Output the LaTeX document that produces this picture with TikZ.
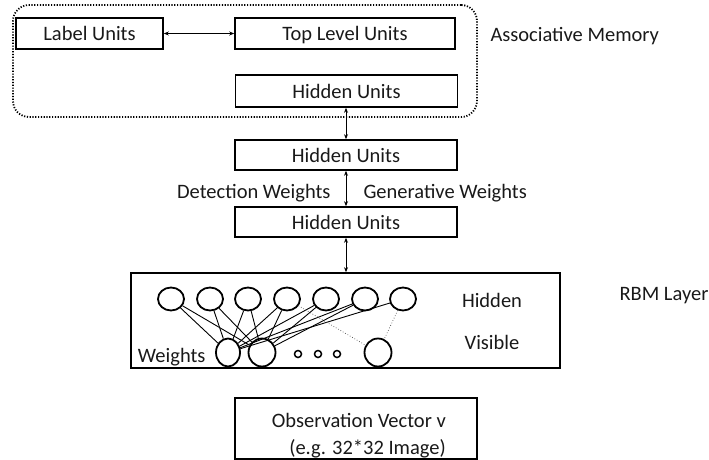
\documentclass[tikz,border=0pt]{standalone}
\usepackage{fontspec}
\setmainfont{Carlito}
\usetikzlibrary{arrows.meta,shapes.geometric}
\begin{document}
\begin{tikzpicture}[x=1pt,y=-1pt,
  every node/.style={font=\fontsize{20.5}{24}\selectfont, text=black!90},
  unitbox/.style={draw, line width=1.6pt, inner sep=0pt},
  txtfix/.style={text height=16pt, text depth=2pt},
  hcirc/.style={draw, ellipse, line width=1.8pt, minimum width=26pt, minimum height=23pt, inner sep=0pt},
  vcirc/.style={draw, ellipse, line width=1.8pt, minimum width=27pt, minimum height=28pt, inner sep=0pt},
  dotc/.style={draw, circle, line width=1.5pt, minimum size=7pt, inner sep=0pt},
  link/.style={line width=0.9pt},
  dlink/.style={line width=0.7pt, dotted, black!70},
  biarrow/.style={line width=0.8pt, {Stealth[length=5pt,width=4pt]}-{Stealth[length=5pt,width=4pt]}},
  memframe/.style={draw, line width=1.8pt, dash pattern=on 1.2pt off 1.6pt, rounded corners=16pt, inner sep=0pt}
]
\useasboundingbox (0,0) rectangle (709,460);

% associative memory frame
\node[memframe, minimum width=464pt, minimum height=112pt] (assoc) at (245,61) {};

\node[unitbox, txtfix, minimum width=147pt, minimum height=31pt] (lab) at (89.5,33.5) {Label Units};
\node[unitbox, txtfix, minimum width=220pt, minimum height=31pt] (top) at (345,33.5) {Top Level Units};
\node[unitbox, txtfix, minimum width=222pt, minimum height=32pt] (hid1) at (346.5,91) {Hidden Units};
\node[unitbox, txtfix, minimum width=222pt, minimum height=30pt] (hid2) at (346,155) {Hidden Units};
\node[unitbox, txtfix, minimum width=222pt, minimum height=30pt] (hid3) at (346,222) {Hidden Units};
\node[unitbox, minimum width=429pt, minimum height=95pt] (rbm) at (345.5,320.5) {};
\node[unitbox, minimum width=242pt, minimum height=61pt] (obs) at (356,428.5) {};
\node[align=right, anchor=east, inner sep=0pt] (obstxt) at (446,436) 
  {Observation Vector v\\[3pt](e.g. 32*32 Image)};

\node[anchor=west] (assoclbl) at (487,36) {Associative Memory};
\node[anchor=east, txtfix] (detlbl) at (334,191) {Detection Weights};
\node[anchor=west, txtfix] (genlbl) at (360,191) {Generative Weights};
\node (hidlbl) at (492,300) {Hidden};
\node (vislbl) at (492,342) {Visible};
\node[anchor=west] (rbmlbl) at (616,296) {RBM Layer};
\node[anchor=east, txtfix] (wlbl) at (209,355) {Weights};

% arrows
\draw[biarrow] (hid1.south -| hid2.north) -- (hid2.north);
\draw[biarrow] (lab.east) -- (top.west);
\draw[biarrow] (hid2.south) -- (hid3.north);
\draw[biarrow] (hid3.south) -- (hid3.south |- rbm.north);

% hidden units
\foreach \i/\x in {1/171,2/210,3/248,4/287,5/326,6/365,7/403}
  \node[hcirc] (h\i) at (\x,299) {};
% visible units
\node[vcirc, minimum width=24pt] (v1) at (228,352.5) {};
\node[vcirc] (v2) at (262,352.5) {};
\node[vcirc] (v3) at (378,352.5) {};
\node[dotc] (d1) at (298,354) {};
\node[dotc] (d2) at (318,354) {};
\node[dotc] (d3) at (337,354) {};

% weights
\foreach \i in {1,...,7} {
  \draw[link] (h\i) -- (v1);
}
\foreach \i in {1,...,6} {
  \draw[link] (h\i) -- (v2);
}
\draw[dlink] (h4) -- (v3);
\draw[dlink] (h7) -- (v3);
\end{tikzpicture}
\end{document}
